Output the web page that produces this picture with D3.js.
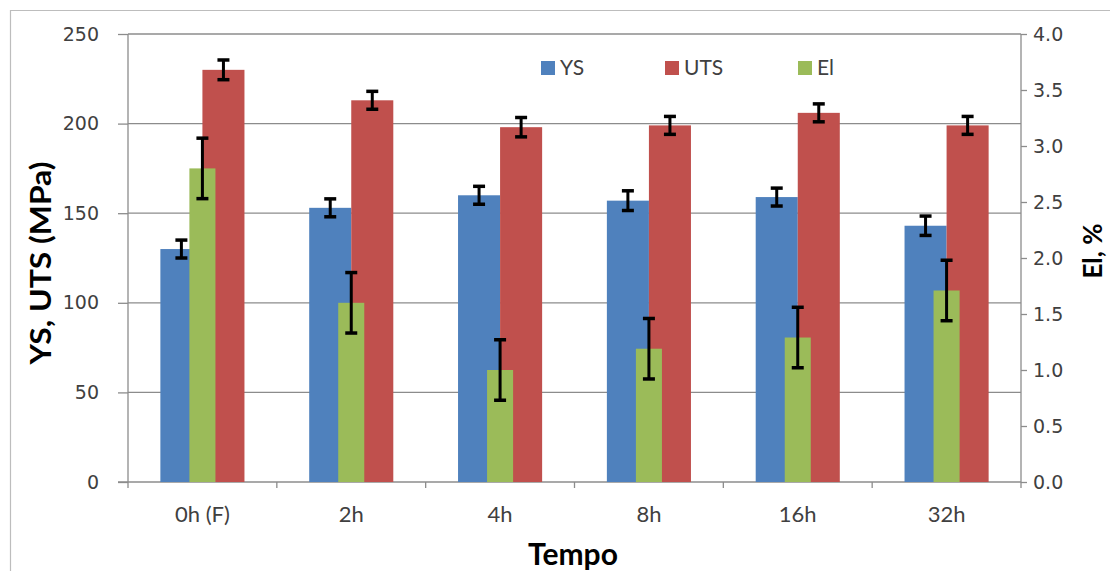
<!DOCTYPE html>
<html>
<head>
<meta charset="utf-8">
<script src="https://cdn.jsdelivr.net/npm/d3@7"></script>
<style>
  body { margin: 0; background: #fff; }
  svg { display: block; }
  .tick text { font-family: "DejaVu Sans", sans-serif; font-size: 19px; fill: #404040; }
  .axis path, .axis line { stroke: #8c8c8c; stroke-width: 1.3px; }
</style>
</head>
<body>
<svg id="chart" width="1110" height="571"></svg>
<script>
// data
var categories = ["0h (F)", "2h", "4h", "8h", "16h", "32h"];
var ysValues   = [130, 153, 160, 157, 159, 143];
var ysErrors   = [5, 5, 5, 5.5, 5, 5.4];
var utsValues  = [230, 213, 198, 199, 206, 199];
var utsErrors  = [5.5, 5, 5.4, 5, 5, 5];
var elValues   = [2.8, 1.6, 1.0, 1.19, 1.29, 1.71];
var elErrors   = [0.27, 0.27, 0.27, 0.27, 0.27, 0.27];
var leftTicks  = [0, 50, 100, 150, 200, 250];
var rightTicks = [0, 0.5, 1, 1.5, 2, 2.5, 3, 3.5, 4];
var seriesNames = ["YS", "UTS", "El"];
var seriesColors = ["#4F81BD", "#C0504D", "#9BBB59"];

(function() {
  var svg = d3.select("#chart");
  var plotLeft = 128, plotRight = 1021, plotTop = 34, plotBottom = 482;

  // outer chart border (only top/left visible in the crop)
  svg.append("path")
    .attr("d", "M10.5,571 V10.5 H1110")
    .attr("fill", "none")
    .attr("stroke", "#bdbdbd")
    .attr("stroke-width", 1.2);

  var x0 = d3.scaleBand().domain(categories).range([plotLeft, plotRight])
    .paddingInner(0.435).paddingOuter(0.2175);
  var x1 = d3.scaleBand().domain(["YS", "UTS"]).range([0, x0.bandwidth()]);
  var xEl = d3.scaleBand().domain(categories).range([plotLeft, plotRight])
    .paddingInner(0.825).paddingOuter(0.4125);
  var y = d3.scaleLinear().domain([0, 250]).range([plotBottom, plotTop]);
  var y2 = d3.scaleLinear().domain([0, 4]).range([plotBottom, plotTop]);

  // gridlines
  svg.append("g")
    .selectAll("line")
    .data(leftTicks.slice(1))
    .join("line")
    .attr("x1", plotLeft).attr("x2", plotRight)
    .attr("y1", function(d) { return y(d); })
    .attr("y2", function(d) { return y(d); })
    .attr("stroke", "#8c8c8c")
    .attr("stroke-width", 1.3);

  // left axis
  var gl = svg.append("g").attr("class", "axis")
    .attr("transform", "translate(" + plotLeft + ",0)")
    .call(d3.axisLeft(y).tickValues(leftTicks).tickSize(10).tickPadding(19).tickSizeOuter(0));
  gl.select(".domain").attr("d", "M0," + plotTop + "V" + plotBottom);

  // right axis
  var gr = svg.append("g").attr("class", "axis")
    .attr("transform", "translate(" + plotRight + ",0)")
    .call(d3.axisRight(y2).tickValues(rightTicks).tickFormat(d3.format(".1f"))
      .tickSize(6).tickPadding(6).tickSizeOuter(0));
  gr.select(".domain").attr("d", "M0," + plotTop + "V" + plotBottom);

  // x axis: line with ticks between categories
  var step = x0.step();
  var gx = svg.append("g").attr("class", "axis");
  gx.append("line")
    .attr("x1", plotLeft - 10).attr("x2", plotRight)
    .attr("y1", plotBottom).attr("y2", plotBottom);
  gx.selectAll("line.sep")
    .data(d3.range(categories.length + 1))
    .join("line")
    .attr("class", "sep")
    .attr("x1", function(i) { return plotLeft + i * step; })
    .attr("x2", function(i) { return plotLeft + i * step; })
    .attr("y1", plotBottom).attr("y2", plotBottom + 6);
  svg.append("g")
    .selectAll("text")
    .data(categories)
    .join("text")
    .attr("x", function(d) { return x0(d) + x0.bandwidth() / 2; })
    .attr("y", 522)
    .attr("text-anchor", "middle")
    .attr("font-family", "Lato, sans-serif")
    .attr("font-size", 22)
    .attr("fill", "#404040")
    .text(function(d) { return d; });

  // bars
  var rows = categories.map(function(c, i) {
    return { cat: c, ys: ysValues[i], ysErr: ysErrors[i], uts: utsValues[i], utsErr: utsErrors[i],
             el: elValues[i], elErr: elErrors[i] };
  });

  var bars = svg.append("g");
  bars.selectAll("rect.ys").data(rows).join("rect")
    .attr("class", "ys")
    .attr("x", function(d) { return x0(d.cat) + x1("YS"); })
    .attr("width", x1.bandwidth())
    .attr("y", function(d) { return y(d.ys); })
    .attr("height", function(d) { return plotBottom - y(d.ys); })
    .attr("fill", seriesColors[0]);
  bars.selectAll("rect.uts").data(rows).join("rect")
    .attr("class", "uts")
    .attr("x", function(d) { return x0(d.cat) + x1("UTS"); })
    .attr("width", x1.bandwidth())
    .attr("y", function(d) { return y(d.uts); })
    .attr("height", function(d) { return plotBottom - y(d.uts); })
    .attr("fill", seriesColors[1]);
  bars.selectAll("rect.el").data(rows).join("rect")
    .attr("class", "el")
    .attr("x", function(d) { return xEl(d.cat); })
    .attr("width", xEl.bandwidth())
    .attr("y", function(d) { return y2(d.el); })
    .attr("height", function(d) { return plotBottom - y2(d.el); })
    .attr("fill", seriesColors[2]);

  // error bars
  function errorBar(g, cx, yTop, yBot) {
    g.append("line").attr("x1", cx).attr("x2", cx).attr("y1", yTop).attr("y2", yBot)
      .attr("stroke", "#000").attr("stroke-width", 3);
    [yTop, yBot].forEach(function(yy) {
      g.append("line").attr("x1", cx - 6).attr("x2", cx + 6).attr("y1", yy).attr("y2", yy)
        .attr("stroke", "#000").attr("stroke-width", 3.5);
    });
  }
  var errs = svg.append("g");
  rows.forEach(function(d) {
    errorBar(errs, x0(d.cat) + x1("YS") + x1.bandwidth() / 2, y(d.ys + d.ysErr), y(d.ys - d.ysErr));
    errorBar(errs, x0(d.cat) + x1("UTS") + x1.bandwidth() / 2, y(d.uts + d.utsErr), y(d.uts - d.utsErr));
    errorBar(errs, xEl(d.cat) + xEl.bandwidth() / 2, y2(d.el + d.elErr), y2(d.el - d.elErr));
  });

  // legend
  var legendX = [541, 665, 798];
  var legend = svg.append("g");
  seriesNames.forEach(function(name, i) {
    legend.append("rect")
      .attr("x", legendX[i]).attr("y", 61)
      .attr("width", 14).attr("height", 14)
      .attr("fill", seriesColors[i]);
    legend.append("text")
      .attr("x", legendX[i] + 19).attr("y", 75)
      .attr("font-family", "Lato, sans-serif")
      .attr("font-size", 21)
      .attr("fill", "#404040")
      .text(name);
  });

  // axis titles
  svg.append("text")
    .attr("transform", "translate(51,263) rotate(-90)")
    .attr("text-anchor", "middle")
    .attr("font-family", "Lato, sans-serif")
    .attr("font-weight", "bold")
    .attr("font-size", 28)
    .attr("fill", "#000")
    .attr("textLength", 203)
    .attr("lengthAdjust", "spacingAndGlyphs")
    .text("YS, UTS (MPa)");

  svg.append("text")
    .attr("transform", "translate(1102,251) rotate(-90)")
    .attr("text-anchor", "middle")
    .attr("font-family", "Lato, sans-serif")
    .attr("font-weight", "bold")
    .attr("font-size", 26)
    .attr("fill", "#000")
    .text("El, %");

  svg.append("text")
    .attr("x", 573).attr("y", 565)
    .attr("text-anchor", "middle")
    .attr("font-family", "Lato, sans-serif")
    .attr("font-weight", "bold")
    .attr("font-size", 30)
    .attr("fill", "#000")
    .text("Tempo");
})();
</script>
</body>
</html>
